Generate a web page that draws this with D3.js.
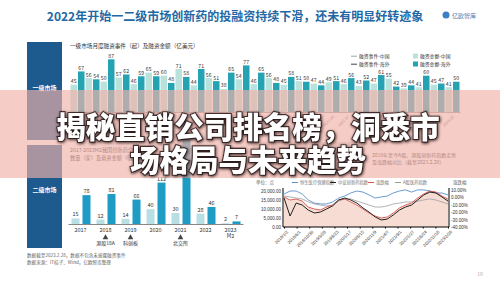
<!DOCTYPE html>
<html>
<head>
<meta charset="utf-8">
<script src="https://cdn.jsdelivr.net/npm/d3@7/dist/d3.min.js"></script>
<style>
  body { margin: 0; background: #fff; }
  svg { display: block; }
</style>
</head>
<body>
<div id="chart"></div>
<script>
// 一级市场 月度数据
const topMonths = ["2021.01","2021.02","2021.03","2021.04","2021.05","2021.06","2021.07","2021.08","2021.09","2021.10","2021.11","2021.12",
                   "2022.01","2022.02","2022.03","2022.04","2022.05","2022.06","2022.07","2022.08","2022.09","2022.10","2022.11","2022.12",
                   "2023.01","2023.02"];
const amountCN = [45,56,50,57,46,65,60,71,44,56,38,54,46,56,45,51,47,49,46,43,47,55,39,41,45,41];
const amountOS = [67,54,87,62,59,59,48,58,71,51,65,77,65,48,58,50,44,51,56,52,61,42,44,60,47,50];

// 二级市场 IPO
const ipoYears  = ["2017","2018","2019","2020","2021","2022","2023M2"];
const ipoCount  = [15,12,14,40,30,28,2];
const ipoAmount = [78,81,66,112,230,46,7];
const markYears  = ["2018","2019","2021"];
const markLabels = ["港股18A","科创板","北交所"];

// 指数走势
const lineDates = ["2018/1/2","2018/6/1","2018/10/30","2019/3/28","2019/8/23","2020/1/17","2020/6/15",
                   "2020/11/9","2021/4/7","2021/9/1","2022/1/27","2022/6/24","2022/11/18","2023/2/28"];
const idxBlue  = [18300,20000,20000,18300,15000,13300,12800,12800,13900,16100,17200,18900,20000,19400,
                  17800,16100,16700,17200,18900,20000,20600,19400,20600,20600,20000,18900,18900,17800];
const idxBlack = [16100,6100,13300,12200,9400,7800,8300,10000,11700,15000,16100,15000,13300,10600,
                  8300,5600,3900,4400,6700,9400,11100,12200,15000,17800,19400,18900,16700,14400];
const idxGray  = [17200,16700,16100,15600,13900,12800,12200,11700,12200,14400,15600,15600,14400,13300,
                  12200,11100,11100,11700,12800,13300,13900,13900,14400,15000,15600,15000,13900,12800];
const pctRed   = [0.5,-3.5,-2.2,-4.9,-13,-15.7,-17,-13,-10.3,-3.5,-2.2,-6.2,-10.3,-15.7,
                  -21.1,-25.1,-27.8,-26.5,-21.1,-14.3,-10.3,-7.6,-0.8,4.6,8.6,7.3,1.9,-2.2];
const leftTicks  = [0,5000,10000,15000,20000];
const rightTicks = [10,0,-10,-20,-30,-40];

const svg = d3.select("#chart").append("svg")
    .attr("width", 500)
    .attr("height", 281)
    .style("font-family", '"Noto Sans CJK SC", "Noto Sans", sans-serif');

// 标题
svg.append("text")
   .attr("x", 235).attr("y", 21)
   .attr("text-anchor", "middle")
   .attr("fill", "#2367a3")
   .style("font-size", "12px").style("font-weight", "bold")
   .text("2022年开始一二级市场创新药的投融资持续下滑，还未有明显好转迹象");

// logo
svg.append("circle").attr("cx", 446).attr("cy", 15).attr("r", 3.5).attr("fill", "#3b7fc4");
svg.append("text").attr("x", 452).attr("y", 17.5).attr("fill", "#4a78b0")
   .style("font-size", "6px").text("亿欧智库");

// 左侧色块
svg.append("rect").attr("x", 27).attr("y", 42).attr("width", 35).attr("height", 98).attr("fill", "#1d5b8f");
svg.append("rect").attr("x", 27).attr("y", 145).attr("width", 35).attr("height", 103).attr("fill", "#1d5b8f");
svg.append("text").attr("x", 44.5).attr("y", 90).attr("text-anchor", "middle").attr("fill", "#fff")
   .style("font-size", "6px").style("font-weight", "bold").text("一级市场");
svg.append("text").attr("x", 44.5).attr("y", 192).attr("text-anchor", "middle").attr("fill", "#fff")
   .style("font-size", "6px").style("font-weight", "bold").text("二级市场");

// ---------- 一级市场 柱状图 ----------
svg.append("text").attr("x", 70).attr("y", 48).attr("fill", "#333")
   .style("font-size", "5.6px").text("一级市场月度融资事件（起）及融资金额（亿美元）");

const xTop = d3.scaleBand().domain(topMonths).range([70, 460]);
const yTop = d3.scaleLinear().domain([0, 90]).range([112, 57.5]);
const gTop = svg.append("g");
const bw = 6.5;

gTop.selectAll(".cn").data(topMonths).enter().append("rect")
    .attr("x", d => xTop(d) + 7.5 - bw - 0.5)
    .attr("y", (d, i) => yTop(amountCN[i]))
    .attr("width", bw)
    .attr("height", (d, i) => yTop(0) - yTop(amountCN[i]))
    .attr("fill", "#b9e2dc");
gTop.selectAll(".os").data(topMonths).enter().append("rect")
    .attr("x", d => xTop(d) + 8)
    .attr("y", (d, i) => yTop(amountOS[i]))
    .attr("width", bw)
    .attr("height", (d, i) => yTop(0) - yTop(amountOS[i]))
    .attr("fill", "#26a3b3");
gTop.selectAll(".lcn").data(topMonths).enter().append("text")
    .attr("x", d => xTop(d) + 7.5 - bw / 2 - 0.5)
    .attr("y", (d, i) => yTop(amountCN[i]) - 1.5)
    .attr("text-anchor", "middle").attr("fill", "#333").style("font-size", "5.2px")
    .text((d, i) => amountCN[i]);
gTop.selectAll(".los").data(topMonths).enter().append("text")
    .attr("x", d => xTop(d) + 8 + bw / 2)
    .attr("y", (d, i) => yTop(amountOS[i]) - 1.5)
    .attr("text-anchor", "middle").attr("fill", "#333").style("font-size", "5.2px")
    .text((d, i) => amountOS[i]);

const axTop = gTop.append("g").attr("transform", "translate(0,112)")
    .call(d3.axisBottom(xTop).tickSize(0));
axTop.select(".domain").attr("stroke", "#999");
axTop.selectAll("text").style("font-size", "4px").attr("fill", "#666")
    .attr("text-anchor", "end").attr("transform", "rotate(-45)").attr("dx", "-2").attr("dy", "2");

// 图例
const legTop = [
  {x: 357, y: 58, t: "融资事件-中国", line: "#9aa5aa"},
  {x: 357, y: 66, t: "融资事件-海外", line: "#3c4650"},
  {x: 418, y: 58, t: "融资金额-中国", rect: "#b9e2dc"},
  {x: 418, y: 66, t: "融资金额-海外", rect: "#26a3b3"}
];
legTop.forEach(l => {
  if (l.line) svg.append("line").attr("x1", l.x - 6).attr("x2", l.x).attr("y1", l.y - 1.8).attr("y2", l.y - 1.8)
                 .attr("stroke", l.line).attr("stroke-width", 1);
  else svg.append("rect").attr("x", l.x - 5).attr("y", l.y - 4.5).attr("width", 5).attr("height", 5).attr("fill", l.rect);
  svg.append("text").attr("x", l.x + 2).attr("y", l.y).attr("fill", "#333").style("font-size", "4.8px").text(l.t);
});

// ---------- 二级市场 IPO ----------
svg.append("text").attr("x", 70).attr("y", 152).attr("fill", "#333").style("font-size", "5.2px")
   .text("2017-2023M2我国创新药企业IPO");
svg.append("text").attr("x", 70).attr("y", 160).attr("fill", "#333").style("font-size", "5.2px")
   .text("数量（家）及募资金额（亿元）");

const xIpo = d3.scaleBand().domain(ipoYears).range([68, 243]);
const yIpo = d3.scaleLinear().domain([0, 200]).range([224, 150]);
const gIpo = svg.append("g");

gIpo.selectAll(".c").data(ipoYears).enter().append("rect")
    .attr("x", d => xIpo(d) + 12.5 - 9)
    .attr("y", (d, i) => yIpo(ipoCount[i]))
    .attr("width", 8)
    .attr("height", (d, i) => yIpo(0) - yIpo(ipoCount[i]))
    .attr("fill", "#b7dfe4");
gIpo.selectAll(".a").data(ipoYears).enter().append("rect")
    .attr("x", d => xIpo(d) + 12.5 + 2)
    .attr("y", (d, i) => yIpo(ipoAmount[i]))
    .attr("width", 8)
    .attr("height", (d, i) => yIpo(0) - yIpo(ipoAmount[i]))
    .attr("fill", "#1f9cc4");
gIpo.selectAll(".lc").data(ipoYears).enter().append("text")
    .attr("x", d => xIpo(d) + 12.5 - 5)
    .attr("y", (d, i) => yIpo(ipoCount[i]) - 2)
    .attr("text-anchor", "middle").attr("fill", "#333").style("font-size", "5.5px")
    .text((d, i) => ipoCount[i]);
gIpo.selectAll(".la").data(ipoYears).enter().append("text")
    .attr("x", d => xIpo(d) + 12.5 + 6)
    .attr("y", (d, i) => yIpo(ipoAmount[i]) - 2)
    .attr("text-anchor", "middle").attr("fill", "#333").style("font-size", "5.5px")
    .text((d, i) => ipoAmount[i]);

const axIpo = gIpo.append("g").attr("transform", "translate(0,224)")
    .call(d3.axisBottom(xIpo).tickSize(0).tickFormat(""));
axIpo.select(".domain").attr("stroke", "#888");
ipoYears.forEach(y => {
  const t = gIpo.append("text").attr("x", xIpo(y) + 12.5).attr("y", 232)
      .attr("text-anchor", "middle").attr("fill", "#333").style("font-size", "5.5px");
  if (y === "2023M2") {
    t.text("2023");
    gIpo.append("text").attr("x", xIpo(y) + 12.5).attr("y", 238)
        .attr("text-anchor", "middle").attr("fill", "#333").style("font-size", "5.5px").text("M2");
  } else t.text(y);
});
markYears.forEach((y, i) => {
  gIpo.append("path").attr("d", d3.symbol(d3.symbolTriangle, 14)())
      .attr("transform", `translate(${xIpo(y) + 12.5},237.5)`).attr("fill", "#444");
  gIpo.append("text").attr("x", xIpo(y) + 12.5).attr("y", 245)
      .attr("text-anchor", "middle").attr("fill", "#333").style("font-size", "5px").text(markLabels[i]);
});

svg.append("text").attr("x", 27).attr("y", 257).attr("fill", "#666").style("font-size", "4.6px")
   .text("数据截至2023.2.28，数据不包含未披露融资事件");
svg.append("text").attr("x", 27).attr("y", 263.5).attr("fill", "#666").style("font-size", "4.6px")
   .text("数据来源：IT桔子、Wind，亿欧智库整理");

// ---------- 指数走势 ----------
// 上方小表格与说明文字（被横幅覆盖）
const tbl = svg.append("g");
[0, 1, 2, 3].forEach(r => {
  [0, 1, 2, 3, 4, 5].forEach(c => {
    tbl.append("rect").attr("x", 252 + c * 19).attr("y", 142 + r * 8.5).attr("width", 18).attr("height", 7.5)
       .attr("fill", r === 0 ? "#d9d9d9" : "#f2f2f2");
  });
});
svg.append("text").attr("x", 372).attr("y", 157).attr("fill", "#333").style("font-size", "5px")
   .text("2018年至今A股、港股创新药指数走势");
svg.append("text").attr("x", 372).attr("y", 164).attr("fill", "#333").style("font-size", "5px")
   .text("及涨跌幅对比（截至2023.2.28）");

svg.append("text").attr("x", 256).attr("y", 184).attr("fill", "#666").style("font-size", "4.5px").text("单位：点");
svg.append("text").attr("x", 453).attr("y", 184).attr("fill", "#666").style("font-size", "4.5px").text("涨跌幅");
const legLine = [
  {x: 292, t: "恒生医疗保健指数", c: "#5b8fc7"},
  {x: 330, t: "中证创新药指数", c: "#222"},
  {x: 368, t: "涨跌幅", c: "#d9534f"},
  {x: 395, t: "A股医药指数", c: "#999"}
];
legLine.forEach(l => {
  svg.append("line").attr("x1", l.x).attr("x2", l.x + 6).attr("y1", 182.5).attr("y2", 182.5)
     .attr("stroke", l.c).attr("stroke-width", 1);
  svg.append("text").attr("x", l.x + 8).attr("y", 184).attr("fill", "#777").style("font-size", "4.3px").text(l.t);
});

const xL = d3.scaleLinear().domain([0, idxBlue.length - 1]).range([284, 448]);
const yL = d3.scaleLinear().domain([0, 20000]).range([227, 191]);
const yR = d3.scaleLinear().domain([-40, 10]).range([227, 190]);
const xD = d3.scalePoint().domain(lineDates).range([284, 448]);
const gL = svg.append("g");

gL.append("path").datum(pctRed)
  .attr("fill", "#f2cdbf").attr("opacity", 0.7)
  .attr("d", d3.area().x((d, i) => xL(i)).y0(yR(-40)).y1(d => yR(d)));

const drawLine = (arr, color, w, y) => gL.append("path").datum(arr)
  .attr("fill", "none").attr("stroke", color).attr("stroke-width", w)
  .attr("d", d3.line().x((d, i) => xL(i)).y(d => y(d)));
drawLine(idxGray, "#a0a0a0", 0.8, yL);
drawLine(idxBlue, "#5b8fc7", 0.9, yL);
drawLine(pctRed, "#d9534f", 0.9, yR);
drawLine(idxBlack, "#222", 1, yL);

const axL = gL.append("g").attr("transform", "translate(283,0)")
   .call(d3.axisLeft(yL).tickValues(leftTicks).tickSize(0).tickPadding(2).tickFormat(d3.format(",.2f")));
axL.select(".domain").attr("d", "M0,188V227").attr("stroke", "#000");
axL.selectAll("text").style("font-size", "4.5px").attr("fill", "#333");

const axR = gL.append("g").attr("transform", "translate(449,0)")
   .call(d3.axisRight(yR).tickValues(rightTicks).tickSize(0).tickPadding(2).tickFormat(d => d.toFixed(2) + "%"));
axR.select(".domain").attr("d", "M0,188V227").attr("stroke", "#000");
axR.selectAll("text").style("font-size", "4.5px").attr("fill", "#333");

const axD = gL.append("g").attr("transform", "translate(0,227)")
   .call(d3.axisBottom(xD).tickSize(1.5));
axD.select(".domain").attr("d", "M283,0H449").attr("stroke", "#000");
axD.selectAll("text").style("font-size", "4.3px").attr("fill", "#333")
   .attr("text-anchor", "end").attr("transform", "rotate(-45)").attr("dx", "-1").attr("dy", "2");

svg.append("text").attr("x", 480).attr("y", 276).attr("text-anchor", "middle")
   .attr("fill", "#aaa").style("font-size", "5px").text("10");

// ---------- 横幅 ----------
const defs = svg.append("defs");
const f = defs.append("filter").attr("id", "shadow").attr("x", "-10%").attr("y", "-30%")
   .attr("width", "120%").attr("height", "160%");
f.append("feDropShadow").attr("dx", 0.6).attr("dy", 1).attr("stdDeviation", 1.4)
   .attr("flood-color", "#1a0f0f").attr("flood-opacity", 0.95);

svg.append("rect").attr("x", 0).attr("y", 90).attr("width", 500).attr("height", 88)
   .attr("fill", "rgb(241,177,169)").attr("opacity", 0.66);

const bannerLines = ["揭秘直销公司排名榜，洞悉市", "场格局与未来趋势"];
const bannerY = [127, 160];
bannerLines.forEach((t, i) => {
  svg.append("text").attr("x", 248).attr("y", bannerY[i]).attr("dy", "0.36em")
     .attr("text-anchor", "middle")
     .attr("fill", "#fff")
     .attr("stroke", "rgba(35,20,20,0.75)").attr("stroke-width", 2.2)
     .attr("paint-order", "stroke")
     .attr("filter", "url(#shadow)")
     .style("font-size", "29.5px").style("font-weight", "900")
     .text(t);
});
</script>
</body>
</html>
